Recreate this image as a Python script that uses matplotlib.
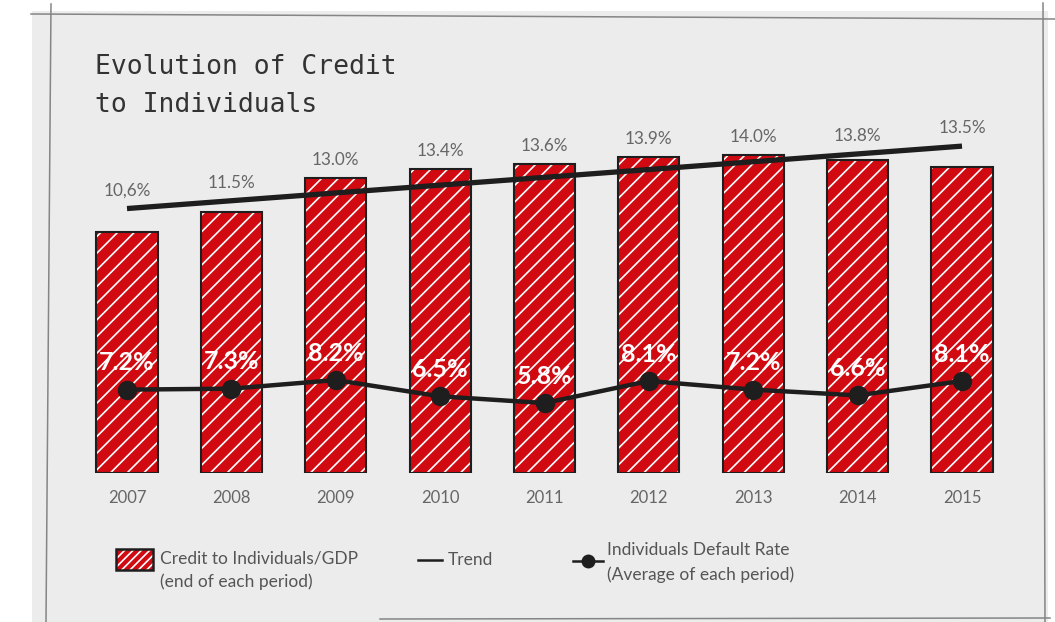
import matplotlib
matplotlib.use("Agg")
import matplotlib.pyplot as plt
import numpy as np
from matplotlib.patches import Rectangle
from matplotlib.lines import Line2D

years = ['2007', '2008', '2009', '2010', '2011', '2012', '2013', '2014', '2015']
credit_gdp = [10.6, 11.5, 13.0, 13.4, 13.6, 13.9, 14.0, 13.8, 13.5]
credit_labels = ['10,6%', '11.5%', '13.0%', '13.4%', '13.6%', '13.9%', '14.0%', '13.8%', '13.5%']
default_rate = [7.2, 7.3, 8.2, 6.5, 5.8, 8.1, 7.2, 6.6, 8.1]
trend_ends = [11.65, 14.4]  # trend line value at first and last year

RED = '#d10a12'
INK = '#1e1e1e'
W, H = 1055, 622

plt.rcParams['font.family'] = ['Lato', 'DejaVu Sans']
plt.rcParams['hatch.linewidth'] = 1.2

fig = plt.figure(figsize=(W / 100, H / 100), dpi=100)
fig.patch.set_facecolor('white')


def px(x, y):
    # pixel position -> figure fraction
    return x / W, 1 - y / H


# grey card behind the chart
fig.patches.append(Rectangle(px(32, 622), (1048 - 32) / W, (622 - 11) / H,
                             transform=fig.transFigure, facecolor='#ececec',
                             edgecolor='none', zorder=-5))
# sketchy frame lines
for (x0, y0), (x1, y1) in [((31, 14), (1055, 19)), ((51, 4), (46, 622)),
                           ((1043, 3), (1045, 622)), ((380, 619), (1050, 618))]:
    fig.add_artist(Line2D([x0 / W, x1 / W], [1 - y0 / H, 1 - y1 / H],
                          transform=fig.transFigure, color='#858585', lw=1.1, zorder=-4))

ax = fig.add_axes([74.8 / W, (H - 473) / H, 939.4 / W, 363.2 / H])
ax.set_facecolor('none')
x = np.arange(len(years))
ax.set_xlim(-0.5, len(years) - 0.5)
ax.set_ylim(0, 16)

ax.bar(x, credit_gdp, width=0.585, color=RED, edgecolor='white', hatch='//',
       linewidth=0, zorder=2)
ax.bar(x, credit_gdp, width=0.585, fill=False, edgecolor=INK, linewidth=1.5, zorder=3)

trend = np.linspace(trend_ends[0], trend_ends[1], len(years))
ax.plot([x[0], x[-1]], trend_ends, color=INK, lw=3.8, solid_capstyle='butt', zorder=4)

for xi, v, lab, t in zip(x, credit_gdp, credit_labels, trend):
    ax.text(xi, max(v, t) + 0.8, lab, ha='center', va='center',
            fontsize=12.3, color='#666666', zorder=5)

ax.set_xticks(x, years)
ax.tick_params(axis='x', length=0, pad=12, labelsize=12, labelcolor='#666666')
ax.set_yticks([])
for s in ax.spines.values():
    s.set_visible(False)

ax2 = ax.twinx()
ax2.set_ylim(-1.5, 36.4)
ax2.plot(x, default_rate, color=INK, lw=3.2, marker='o', markersize=13, zorder=6)
for xi, v in zip(x, default_rate):
    ax2.text(xi, v + 2.8, f'{v:.1f}%', ha='center', va='center', fontsize=18,
             fontweight='bold', color='white', zorder=7)
ax2.set_yticks([])
for s in ax2.spines.values():
    s.set_visible(False)

# title
for txt, yy in [('Evolution of Credit', 67), ('to Individuals', 105)]:
    fig.text(*px(95, yy), txt, family='DejaVu Sans Mono', fontsize=19,
             color='#333333', va='center', ha='left')

# legend
fig.patches.append(Rectangle(px(116, 570), 37 / W, 21 / H, transform=fig.transFigure,
                             facecolor=RED, edgecolor='white', hatch='////', lw=0))
fig.patches.append(Rectangle(px(116, 570), 37 / W, 21 / H, transform=fig.transFigure,
                             fill=False, edgecolor=INK, lw=1.8))
legend_grey = '#555555'
fig.text(*px(160, 559), 'Credit to Individuals/GDP', fontsize=12.5, color=legend_grey, va='center')
fig.text(*px(160, 582), '(end of each period)', fontsize=12.5, color=legend_grey, va='center')

fig.add_artist(Line2D([418 / W, 442 / W], [1 - 560 / H] * 2, transform=fig.transFigure,
                      color=INK, lw=1.8))
fig.text(*px(448, 560), 'Trend', fontsize=12.5, color=legend_grey, va='center')

fig.add_artist(Line2D([573 / W, 603 / W], [1 - 561 / H] * 2, transform=fig.transFigure,
                      color=INK, lw=1.8))
fig.add_artist(Line2D([588 / W], [1 - 561 / H], transform=fig.transFigure,
                      color=INK, marker='o', markersize=9))
fig.text(*px(607, 550), 'Individuals Default Rate', fontsize=12.5, color=legend_grey, va='center')
fig.text(*px(607, 575), '(Average of each period)', fontsize=12.5, color=legend_grey, va='center')

fig.savefig('out.png', dpi=100)
